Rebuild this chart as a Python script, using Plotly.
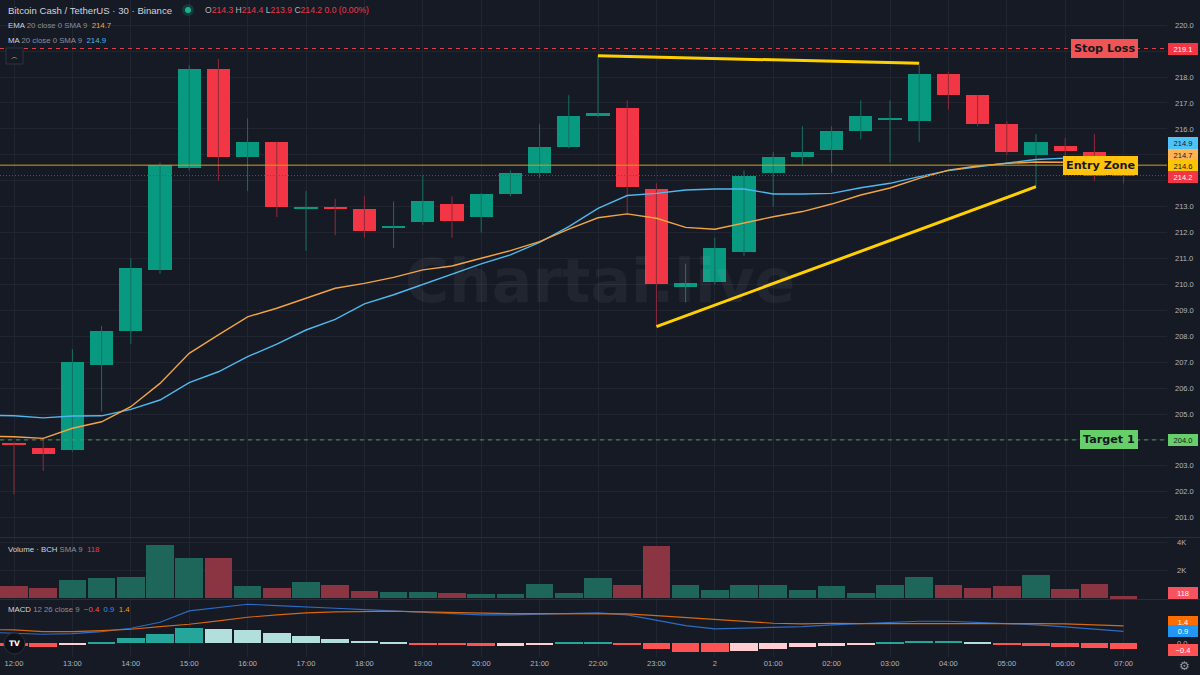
import plotly.graph_objects as go
import pandas as pd

# ---------------- data ----------------
times = [t.strftime("%H:%M") for t in pd.date_range("2024-01-01 12:00", periods=39, freq="30min")]
prev_time = "11:30"

opens = [203.9, 203.7, 203.6, 206.9, 208.2, 210.55, 214.5, 218.3, 214.9, 215.5,
         212.92, 213.0, 212.9, 212.2, 212.4, 213.1, 212.6, 213.5, 214.3, 215.3,
         216.5, 216.8, 213.7, 209.9, 210.1, 211.25, 214.3, 214.9, 215.2, 215.9,
         216.36, 216.3, 218.1, 217.3, 216.2, 215.0, 215.35, 215.1, 214.3]
highs = [203.92, 204.05, 207.5, 208.4, 211.0, 214.7, 218.45, 218.7, 216.4, 215.5,
         213.6, 213.3, 213.4, 213.2, 214.2, 213.4, 213.52, 214.4, 216.2, 217.3,
         218.85, 217.1, 213.9, 210.8, 211.8, 214.4, 215.1, 216.1, 216.1, 217.1,
         217.1, 218.45, 218.2, 217.3, 216.3, 215.8, 215.65, 215.8, 214.4]
lows = [201.9, 202.8, 203.55, 205.1, 207.7, 210.4, 214.4, 214.0, 213.6, 212.6,
        211.3, 211.9, 211.8, 211.4, 212.3, 211.8, 212.0, 213.4, 214.1, 215.25,
        216.45, 212.7, 208.4, 209.3, 210.0, 211.1, 213.0, 214.6, 214.3, 215.6,
        214.7, 215.5, 216.75, 216.1, 215.0, 213.8, 214.2, 214.0, 213.9]
closes = [203.8, 203.45, 207.0, 208.2, 210.65, 214.6, 218.3, 214.9, 215.5, 213.0,
          212.98, 212.93, 212.05, 212.26, 213.2, 212.45, 213.5, 214.3, 215.3, 216.5,
          216.6, 213.75, 210.0, 210.06, 211.4, 214.2, 214.9, 215.1, 215.9, 216.5,
          216.42, 218.1, 217.3, 216.2, 215.1, 215.5, 215.15, 214.2, 214.2]

# indicator lines (first value belongs to prev_time, just left of the view)
ema20 = [204.15, 204.12, 204.06, 204.45, 204.7, 205.28, 206.18, 207.34, 208.05, 208.75,
         209.08, 209.46, 209.85, 210.04, 210.27, 210.56, 210.71, 211.01, 211.3, 211.65,
         212.13, 212.57, 212.72, 212.55, 212.2, 212.13, 212.36, 212.61, 212.81, 213.1,
         213.45, 213.72, 214.09, 214.41, 214.57, 214.67, 214.72, 214.72, 214.71, 214.7]
ma20 = [204.95, 204.93, 204.85, 204.92, 204.93, 205.18, 205.54, 206.21, 206.63, 207.21,
        207.7, 208.24, 208.65, 209.25, 209.6, 210.0, 210.4, 210.79, 211.14, 211.62,
        212.23, 212.93, 213.43, 213.51, 213.64, 213.68, 213.68, 213.49, 213.49, 213.51,
        213.73, 213.9, 214.16, 214.39, 214.54, 214.67, 214.82, 214.87, 214.9, 214.9]

volume = [830, 710, 1260, 1430, 1480, 3810, 2860, 2860, 830, 710,
          1170, 950, 480, 450, 450, 360, 260, 310, 1000, 380,
          1450, 950, 3690, 950, 600, 900, 900, 600, 860, 380,
          950, 1500, 900, 710, 830, 1670, 640, 1000, 118]

macd_hist = [-0.21, -0.27, -0.16, 0.13, 0.40, 0.75, 1.20, 1.12, 1.07, 0.83,
             0.59, 0.37, 0.19, 0.05, -0.08, -0.16, -0.24, -0.19, -0.11, 0.03,
             0.10, -0.11, -0.48, -0.71, -0.73, -0.59, -0.43, -0.27, -0.19, -0.11,
             0.03, 0.16, 0.17, 0.10, -0.13, -0.21, -0.27, -0.37, -0.43]
macd_line = [0.88, 0.82, 0.72, 0.77, 0.93, 1.20, 1.68, 2.59, 2.85, 3.12,
             3.01, 2.88, 2.80, 2.69, 2.59, 2.48, 2.37, 2.27, 2.27, 2.32,
             2.37, 2.43, 2.27, 1.81, 1.41, 1.15, 1.20, 1.25, 1.33, 1.47,
             1.55, 1.68, 1.76, 1.76, 1.68, 1.57, 1.47, 1.31, 1.12, 0.95]
signal_line = [1.10, 1.07, 0.93, 0.93, 1.01, 1.12, 1.33, 1.52, 1.79, 2.08,
               2.27, 2.43, 2.51, 2.56, 2.56, 2.51, 2.45, 2.43, 2.37, 2.37,
               2.37, 2.37, 2.35, 2.21, 2.05, 1.87, 1.73, 1.60, 1.55, 1.60,
               1.57, 1.57, 1.60, 1.63, 1.63, 1.63, 1.57, 1.55, 1.47, 1.39]

hour_ticks = ["12:00", "13:00", "14:00", "15:00", "16:00", "17:00", "18:00", "19:00",
              "20:00", "21:00", "22:00", "23:00", "00:00", "01:00", "02:00", "03:00",
              "04:00", "05:00", "06:00", "07:00"]
hour_labels = ["12:00", "13:00", "14:00", "15:00", "16:00", "17:00", "18:00", "19:00",
               "20:00", "21:00", "22:00", "23:00", "2", "01:00", "02:00", "03:00",
               "04:00", "05:00", "06:00", "07:00"]
price_ticks = [201, 202, 203, 204, 205, 206, 207, 208, 209, 210, 211, 212, 213, 214,
               215, 216, 217, 218, 219, 220]

# drawings
top_trend_times = ["22:00", "03:30"]
top_trend_prices = [218.82, 218.53]
low_trend_times = ["23:00", "05:30"]
low_trend_prices = [208.37, 213.77]
stop_loss = 219.1
entry_zone = 214.6
target_1 = 204.0
last_price = 214.2

# ---------------- styling ----------------
BG = "#161A25"
GRID = "#21252F"
TXT = "#B2B5BE"
UP = "#089981"
DN = "#F23645"
UP_WICK = "#137062"
DN_WICK = "#8E2C38"

PLOT_W = 1167.0
PLOT_H = 657.0


def px_x(p):
    return p / PLOT_W


def px_y(p):
    return (PLOT_H - p) / PLOT_H


xi = list(range(len(times)))
pos = {t: i for i, t in enumerate(times)}
pos[prev_time] = -1
line_x = [pos[prev_time]] + xi

fig = go.Figure()

# wicks
for up in (True, False):
    wx, wy = [], []
    for i in xi:
        if (closes[i] >= opens[i]) == up:
            wx += [i, i, None]
            wy += [lows[i], highs[i], None]
    fig.add_trace(go.Scatter(x=wx, y=wy, mode="lines",
                             line=dict(color=UP_WICK if up else DN_WICK, width=1),
                             hoverinfo="skip", showlegend=False, xaxis="x", yaxis="y"))

# bodies
for up in (True, False):
    bx = [i for i in xi if (closes[i] >= opens[i]) == up]
    fig.add_trace(go.Bar(
        x=bx,
        base=[min(opens[i], closes[i]) for i in bx],
        y=[max(abs(closes[i] - opens[i]), 0.04) for i in bx],
        width=0.8, marker=dict(color=UP if up else DN, line=dict(width=0)),
        showlegend=False, xaxis="x", yaxis="y"))

# MA / EMA
fig.add_trace(go.Scatter(x=line_x, y=ma20, mode="lines", line=dict(color="#4FB8EE", width=1.4),
                         showlegend=False, xaxis="x", yaxis="y"))
fig.add_trace(go.Scatter(x=line_x, y=ema20, mode="lines", line=dict(color="#F2A444", width=1.4),
                         showlegend=False, xaxis="x", yaxis="y"))

# trend lines
fig.add_trace(go.Scatter(x=[pos[t] for t in top_trend_times], y=top_trend_prices, mode="lines",
                         line=dict(color="#FFD000", width=3), showlegend=False, xaxis="x", yaxis="y"))
fig.add_trace(go.Scatter(x=[pos[t] for t in low_trend_times], y=low_trend_prices, mode="lines",
                         line=dict(color="#FFD000", width=3), showlegend=False, xaxis="x", yaxis="y"))

# volume
fig.add_trace(go.Bar(x=xi, y=volume, width=0.95,
                     marker=dict(color=["#1F665A" if closes[i] >= opens[i] else "#8A3541" for i in xi],
                                 line=dict(width=0)),
                     showlegend=False, xaxis="x2", yaxis="y2"))

# MACD histogram colours (TradingView rule)
hcol = []
for i, h in enumerate(macd_hist):
    prev = macd_hist[i - 1] if i > 0 else h
    if h >= 0:
        hcol.append("#26A69A" if h > prev else "#B2DFDB")
    else:
        hcol.append("#FF5252" if h < prev or i == 0 else "#FFCDD2")
fig.add_trace(go.Bar(x=xi, y=macd_hist, width=0.94, marker=dict(color=hcol, line=dict(width=0)),
                     showlegend=False, xaxis="x3", yaxis="y3"))
fig.add_trace(go.Scatter(x=line_x, y=macd_line, mode="lines", line=dict(color="#2D6CC4", width=1.1),
                         showlegend=False, xaxis="x3", yaxis="y3"))
fig.add_trace(go.Scatter(x=line_x, y=signal_line, mode="lines", line=dict(color="#D8680F", width=1.1),
                         showlegend=False, xaxis="x3", yaxis="y3"))

# ---------------- axes ----------------
xr = [-14 / 29.2, (PLOT_W - 14) / 29.2]
tickvals = [pos[t] for t in hour_ticks]
xcommon = dict(range=xr, tickvals=tickvals, showgrid=True, gridcolor=GRID, gridwidth=1,
               zeroline=False, showline=False, ticks="", fixedrange=True)

price_range = [205 - (537 - 414) / 25.92, 205 + 414 / 25.92]

fig.update_layout(
    width=1200, height=675, autosize=False,
    margin=dict(l=0, r=33, t=0, b=18),
    paper_bgcolor=BG, plot_bgcolor=BG,
    bargap=0, barmode="overlay",
    showlegend=False,
    font=dict(family="Liberation Sans, Arial, sans-serif", color=TXT, size=8),
    xaxis=dict(**xcommon, anchor="y", showticklabels=False),
    xaxis2=dict(**xcommon, anchor="y2", matches="x", showticklabels=False),
    xaxis3=dict(**xcommon, anchor="y3", matches="x", showticklabels=True,
                ticktext=hour_labels, tickfont=dict(size=7.5, color=TXT)),
    yaxis=dict(domain=[px_y(537), 1], range=price_range, side="right",
               tickvals=price_ticks, ticktext=[f"{v:.1f}" for v in price_ticks],
               tickfont=dict(size=7.5, color=TXT), ticklabelstandoff=7,
               showgrid=True, gridcolor=GRID, zeroline=False, ticks="", fixedrange=True),
    yaxis2=dict(domain=[px_y(599), px_y(538)], range=[-71, 4286], side="right",
                tickvals=[2000, 4000], ticktext=["2K", "4K"], tickfont=dict(size=7.5, color=TXT),
                ticklabelstandoff=9, showgrid=True, gridcolor=GRID, zeroline=False, ticks="",
                fixedrange=True),
    yaxis3=dict(domain=[0, px_y(600)], range=[-1.1, 3.46], side="right",
                tickvals=[0], ticktext=["0.0"], tickfont=dict(size=7.5, color=TXT),
                ticklabelstandoff=9, showgrid=False, zeroline=False, ticks="", fixedrange=True),
)

# ---------------- level lines ----------------
shapes = [
    dict(type="line", xref="paper", x0=0, x1=1, yref="y", y0=stop_loss, y1=stop_loss,
         line=dict(color="#D9414C", width=1, dash="4px,4px")),
    dict(type="line", xref="paper", x0=0, x1=1, yref="y", y0=target_1, y1=target_1,
         line=dict(color="#4E9A58", width=1, dash="4px,4px")),
    dict(type="line", xref="paper", x0=0, x1=1, yref="y", y0=entry_zone, y1=entry_zone,
         line=dict(color="#D49E14", width=1)),
    dict(type="line", xref="paper", x0=0, x1=1, yref="y", y0=last_price, y1=last_price,
         line=dict(color="#A8303E", width=1, dash="1px,2px")),
    # pane separators
    dict(type="line", xref="paper", x0=0, x1=1200 / PLOT_W, yref="paper", y0=px_y(537.5), y1=px_y(537.5),
         line=dict(color="#2A2E39", width=1)),
    dict(type="line", xref="paper", x0=0, x1=1200 / PLOT_W, yref="paper", y0=px_y(599.5), y1=px_y(599.5),
         line=dict(color="#2A2E39", width=1)),
    # status dot
    dict(type="circle", xref="paper", yref="paper", x0=px_x(182), x1=px_x(194), y0=px_y(16), y1=px_y(4),
         fillcolor="rgba(8,153,129,0.25)", line=dict(width=0)),
    dict(type="circle", xref="paper", yref="paper", x0=px_x(185), x1=px_x(191), y0=px_y(13), y1=px_y(7),
         fillcolor="#1FB08E", line=dict(width=0)),
    # collapse button
    dict(type="rect", xref="paper", yref="paper", x0=px_x(6), x1=px_x(23), y0=px_y(64), y1=px_y(48),
         fillcolor=BG, line=dict(color="#2E3240", width=1)),
    # TV logo circle
    dict(type="circle", xref="paper", yref="paper", x0=px_x(4), x1=px_x(25), y0=px_y(654), y1=px_y(633),
         fillcolor="#0E1118", line=dict(color="#2A2E39", width=1)),
]
fig.update_layout(shapes=shapes)

ann = []


def text(xp, yp, s, size, color=TXT, anchor="left", family=None):
    d = dict(xref="paper", yref="paper", x=px_x(xp), y=px_y(yp), text=s, showarrow=False,
             xanchor=anchor, yanchor="middle", font=dict(size=size, color=color))
    if family:
        d["font"]["family"] = family
    ann.append(d)


def gray(s):
    return f'<span style="color:#8C8F99">{s}</span>'


# watermark
ann.append(dict(xref="paper", yref="paper", x=px_x(600), y=px_y(281), text="<b>Chartai.live</b>",
                showarrow=False, xanchor="center", yanchor="middle",
                font=dict(family="DejaVu Sans", size=60, color="rgba(255,255,255,0.05)")))

# header
text(6, 10, "Bitcoin Cash / TetherUS · 30 · Binance", 9.6, "#D1D4DC")
red = "#F23645"
ohlc = (f'O<span style="color:{red}">214.3</span> H<span style="color:{red}">214.4</span> '
        f'L<span style="color:{red}">213.9</span> C<span style="color:{red}">214.2</span> '
        f'<span style="color:{red}">0.0 (0.00%)</span>')
text(203, 10, ohlc, 8.6, "#B2B5BE")
text(6, 25.5, "EMA " + gray("20 close 0 SMA 9") + '  <span style="color:#F2A444">214.7</span>', 7.8, "#D1D4DC")
text(6, 40.5, "MA " + gray("20 close 0 SMA 9") + '  <span style="color:#4FB8EE">214.9</span>', 7.8, "#D1D4DC")
text(14.5, 57, "︿", 7, "#C9CCD4", anchor="center", family="DejaVu Sans")
text(6, 549.5, "Volume · BCH " + gray("SMA 9") + '  <span style="color:#F23645">118</span>', 7.8, "#D1D4DC")
text(6, 609, "MACD " + gray("12 26 close 9") + '  <span style="color:#FF5252">−0.4</span>  '
     '<span style="color:#2196F3">0.9</span>  <span style="color:#FF9800">1.4</span>', 7.8, "#D1D4DC")
text(14.5, 643.5, "<b>TV</b>", 7.5, "#FFFFFF", anchor="center", family="DejaVu Sans")
text(1184, 666, "⚙", 12, "#9598A1", anchor="center", family="DejaVu Sans")

# level labels
for lvl, lab, bg in [(stop_loss, "Stop Loss", "#F05454"), (entry_zone, "Entry Zone", "#FFC20E"),
                     (target_1, "Target 1", "#66CF6A")]:
    ann.append(dict(xref="paper", yref="y", x=px_x(1138), y=lvl, text=f"<b>{lab}</b>",
                    showarrow=False, xanchor="right", yanchor="middle",
                    font=dict(family="DejaVu Sans", size=11.2, color="#15181F"),
                    bgcolor=bg, bordercolor=bg, borderwidth=1, borderpad=2))


def axbox(yref, y, s, bg, fg, shift=0):
    ann.append(dict(xref="paper", yref=yref, x=1, y=y, text=s, showarrow=False,
                    xanchor="left", yanchor="middle", xshift=1, yshift=shift, width=27,
                    align="center", font=dict(size=7.5, color=fg), bgcolor=bg,
                    borderpad=1.5, borderwidth=0))


axbox("y", stop_loss, "219.1", "#F23645", "#FFFFFF")
axbox("y", ma20[-1], "214.9", "#4FC3F7", "#131722", 14)
axbox("y", ema20[-1], "214.7", "#FFB454", "#131722", 8)
axbox("y", entry_zone, "214.6", "#FFC400", "#131722", -1)
axbox("y", last_price, "214.2", "#F23645", "#FFFFFF", -1)
axbox("y", target_1, "204.0", "#66CF6A", "#131722")
axbox("y2", volume[-1], "118", "#F7525F", "#FFFFFF", 3)
axbox("y3", signal_line[-1], "1.4", "#FF6D00", "#FFFFFF", 4)
axbox("y3", macd_line[-1], "0.9", "#2196F3", "#FFFFFF")
axbox("y3", macd_hist[-1], "−0.4", "#FF5252", "#FFFFFF", -1)

fig.update_layout(annotations=ann)

fig.write_html("out.html")
